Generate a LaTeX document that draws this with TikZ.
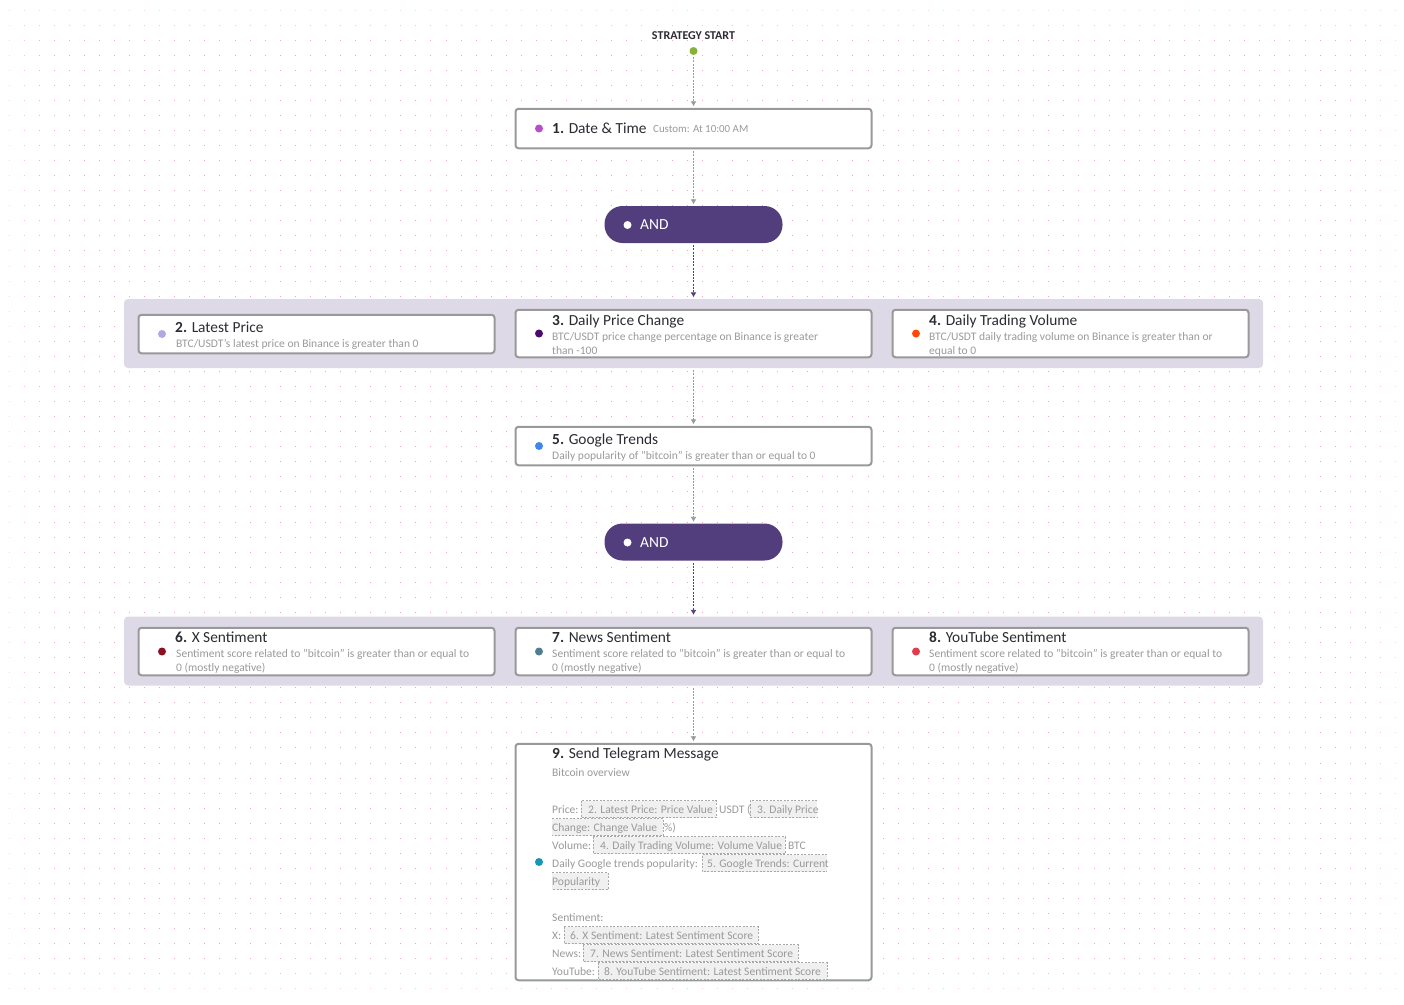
\documentclass[tikz,border=0pt]{standalone}
\usepackage{fontspec}
\setmainfont{Carlito}
\usetikzlibrary{arrows.meta, positioning}
\definecolor{griddotpink}{HTML}{F2A0BC}
\definecolor{stepedge}{HTML}{999999}
\definecolor{bandfill}{HTML}{DDD9E6}
\definecolor{andfill}{HTML}{533E7D}
\definecolor{titleink}{HTML}{2B2B33}
\definecolor{subink}{HTML}{9A9A9A}
\definecolor{chipfillc}{HTML}{F0F0F0}
\definecolor{chipedgec}{HTML}{A8A8A8}
\definecolor{dotA}{HTML}{B84CCB}
\definecolor{dotB}{HTML}{AFA9E0}
\definecolor{dotC}{HTML}{4B0A6E}
\definecolor{dotD}{HTML}{FF4A05}
\definecolor{dotE}{HTML}{3F86F0}
\definecolor{dotF}{HTML}{8B1020}
\definecolor{dotG}{HTML}{4F7F8F}
\definecolor{dotH}{HTML}{E23B4C}
\definecolor{dotI}{HTML}{1596B9}
\definecolor{startgreen}{HTML}{85B33A}
\tikzstyle{stepbox}=[draw=stepedge, line width=2pt, fill=white, rounded corners=3pt, minimum width=356pt, inner sep=0pt]
\tikzstyle{stepdot}=[circle, inner sep=0pt, minimum size=8pt]
\tikzstyle{band}=[fill=bandfill, rounded corners=4pt, minimum width=1139pt, minimum height=69pt, inner sep=0pt]
\tikzstyle{andpill}=[fill=andfill, rounded corners=18pt, minimum width=178pt, minimum height=37pt, inner sep=0pt]
\tikzstyle{titletext}=[anchor=base west, inner sep=0pt, text=titleink, font=\fontsize{15.4}{18}\selectfont]
\tikzstyle{subtext}=[anchor=base west, inner sep=0pt, text=subink, font=\fontsize{11.55}{14}\selectfont]
\tikzstyle{link}=[-{Latex[length=5pt,width=6pt]}, stepedge, line width=0.9pt, dash pattern=on 2pt off 1.2pt, shorten >=1.5pt, shorten <=2pt]
\tikzstyle{linkdark}=[link, andfill]
\tikzstyle{chipfill}=[fill=chipfillc]
\tikzstyle{chipedge}=[draw=chipedgec, line width=0.8pt, dash pattern=on 2pt off 1.5pt]
\newcommand{\drawStep}[7]{
    \node[stepbox, minimum height={(#4-#3-1.5)*1pt}] (#1) at (#2+178.5,{(#3+#4)/2}) {};
    \node[stepdot, fill=#5, xshift=24.5pt] (#1dot) at (#1.west) {};
    \node[titletext] (#1title) at (#2+37,#6) {\textbf{#7}};
}
\newcommand{\drawChip}[3]{
    \fill[chipfill] (#1,#3-8.5) rectangle (#2,#3+8.5);
    \draw[chipedge] (#1,#3-8.5) rectangle (#2,#3+8.5);
}
\begin{document}
\begin{tikzpicture}[x=1pt, y=-1pt]
    \useasboundingbox (0,0) rectangle (1404,1004);

    % Dotted background
    \foreach \i in {0,...,92} {
        \foreach \j in {0,...,65} {
            \pgfmathsetmacro{\dotx}{9+15.07*\i}
            \pgfmathsetmacro{\doty}{10+15.06*\j}
            \pgfmathsetmacro{\dotfade}{min(1,0.3+min(min(\dotx,1404-\dotx),min(\doty,1004-\doty))/70)}
            \fill[griddotpink, opacity=\dotfade] (\dotx-0.5,\doty-0.5) rectangle +(1,1);
        }
    }

    % Bands behind the parallel steps
    \node[band] (bandA) at (693.5,333.5) {};
    \node[band] (bandB) at (693.5,651) {};

    % Start
    \node[font=\fontsize{12}{14}\selectfont\bfseries, text=titleink, inner sep=0pt] (startlabel) at (693.5,35.5) {STRATEGY START};
    \node[stepdot, fill=startgreen] (start) at (693.5,51) {};

    % Steps
    \drawStep{n1}{515}{108}{149}{dotA}{133.5}{1. \normalfont Date \& Time}
    \node[subtext, font=\fontsize{10.9}{14}\selectfont] (n1sub) at (653,132) {Custom: At 10:00 AM};

    \node[andpill] (andA) at (693.5,224.5) {};
    \node[stepdot, fill=white] (andAdot) at (627.5,225) {};
    \node[titletext, text=white] (andAtext) at (640,229.5) {AND};

    \drawStep{n2}{138}{314}{354}{dotB}{332}{2. \normalfont Latest Price}
    \node[subtext] (n2sub) at (176,347) {BTC/USDT's latest price on Binance is greater than 0};
    \drawStep{n3}{515}{309}{358}{dotC}{325}{3. \normalfont Daily Price Change}
    \node[subtext] (n3sub) at (552,340) {BTC/USDT price change percentage on Binance is greater};
    \node[subtext] (n3sub2) at (552,354) {than -100};
    \drawStep{n4}{892}{309}{358}{dotD}{325}{4. \normalfont Daily Trading Volume}
    \node[subtext] (n4sub) at (929,340) {BTC/USDT daily trading volume on Binance is greater than or};
    \node[subtext] (n4sub2) at (929,354) {equal to 0};

    \drawStep{n5}{515}{426}{466}{dotE}{444}{5. \normalfont Google Trends}
    \node[subtext] (n5sub) at (552,459) {Daily popularity of "bitcoin" is greater than or equal to 0};

    \node[andpill] (andB) at (693.5,542) {};
    \node[stepdot, fill=white] (andBdot) at (627.5,542.5) {};
    \node[titletext, text=white] (andBtext) at (640,547) {AND};

    \drawStep{n6}{138}{627}{676}{dotF}{642}{6. \normalfont X Sentiment}
    \node[subtext] (n6sub) at (176,657) {Sentiment score related to "bitcoin" is greater than or equal to};
    \node[subtext] (n6sub2) at (176,671) {0 (mostly negative)};
    \drawStep{n7}{515}{627}{676}{dotG}{642}{7. \normalfont News Sentiment}
    \node[subtext] (n7sub) at (552,657) {Sentiment score related to "bitcoin" is greater than or equal to};
    \node[subtext] (n7sub2) at (552,671) {0 (mostly negative)};
    \drawStep{n8}{892}{627}{676}{dotH}{642}{8. \normalfont YouTube Sentiment}
    \node[subtext] (n8sub) at (929,657) {Sentiment score related to "bitcoin" is greater than or equal to};
    \node[subtext] (n8sub2) at (929,671) {0 (mostly negative)};

    \drawStep{n9}{515}{743}{981}{dotI}{758}{9. \normalfont Send Telegram Message}

    % Message body
    \node[subtext] (m0) at (552,776) {Bitcoin overview};

    \node[subtext] (m1) at (552,813) {Price:};
    \drawChip{581}{716}{809}
    \node[subtext] (c2) at (588,813) {2. Latest Price: Price Value};
    \node[subtext] (m2) at (719,813) {USDT (};
    \fill[chipfill] (750,800.5) rectangle (817,817.5);
    \draw[chipedge] (817,800.5) -- (750,800.5) -- (750,817.5) -- (817,817.5);
    \node[subtext] (c3) at (757,813) {3. Daily Price};

    \fill[chipfill] (552,818.5) rectangle (663,835.5);
    \draw[chipedge] (552,818.5) -- (663,818.5) -- (663,835.5) -- (552,835.5);
    \node[subtext] (c3b) at (552,831) {Change: Change Value};
    \node[subtext] (m3) at (664,831) {\%)};

    \node[subtext] (m4) at (552,849) {Volume:};
    \drawChip{593}{785}{845}
    \node[subtext] (c4) at (600,849) {4. Daily Trading Volume: Volume Value};
    \node[subtext] (m5) at (788,849) {BTC};

    \fill[chipfill] (702,854.5) rectangle (827,871.5);
    \draw[chipedge] (827,854.5) -- (702,854.5) -- (702,871.5) -- (827,871.5);
    \node[subtext] (m6) at (552,867) {Daily Google trends popularity:};
    \node[subtext] (c5) at (707,867) {5. Google Trends: Current};

    \fill[chipfill] (552,872.5) rectangle (608,889.5);
    \draw[chipedge] (552,872.5) -- (608,872.5) -- (608,889.5) -- (552,889.5);
    \node[subtext] (c5b) at (552,885) {Popularity};

    \node[subtext] (m7) at (552,921) {Sentiment:};

    \node[subtext] (m8) at (552,939) {X:};
    \drawChip{564}{758}{935}
    \node[subtext] (c6) at (570,939) {6. X Sentiment: Latest Sentiment Score};

    \node[subtext] (m9) at (552,957) {News:};
    \drawChip{583}{798}{953}
    \node[subtext] (c7) at (590,957) {7. News Sentiment: Latest Sentiment Score};

    \node[subtext] (m10) at (552,975) {YouTube:};
    \drawChip{598}{827}{971}
    \node[subtext] (c8) at (604,975) {8. YouTube Sentiment: Latest Sentiment Score};

    % Connectors
    \draw[link] (start) -- (n1);
    \draw[link] (n1) -- (andA);
    \draw[linkdark] (andA) -- (bandA);
    \draw[link] (bandA) -- (n5);
    \draw[link] (n5) -- (andB);
    \draw[linkdark] (andB) -- (bandB);
    \draw[link] (bandB) -- (n9);
\end{tikzpicture}
\end{document}
